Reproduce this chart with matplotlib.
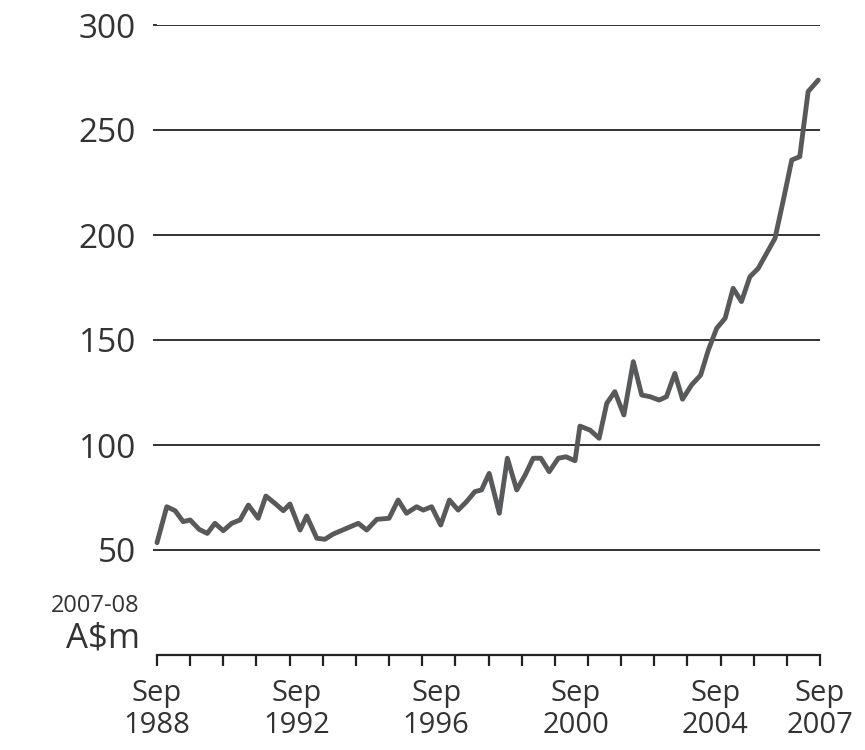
import matplotlib
matplotlib.use('Agg')
import numpy as np
from matplotlib import pyplot as plt

plt.rcParams['font.family'] = ['Open Sans', 'DejaVu Sans']

# quarterly values, x as decimal years (Sep = .75)
years = [1988.75, 1989.03, 1989.27, 1989.50, 1989.70, 1989.96, 1990.19, 1990.41,
         1990.65, 1990.89, 1991.13, 1991.37, 1991.65, 1991.87, 1992.13, 1992.37,
         1992.56, 1992.85, 1993.04, 1993.33, 1993.56, 1993.80, 1994.52, 1994.76,
         1995.05, 1995.40, 1995.66, 1995.90, 1996.19, 1996.38, 1996.62, 1996.88,
         1997.13, 1997.38, 1997.62, 1997.86, 1998.05, 1998.27, 1998.56, 1998.79,
         1999.06, 1999.30, 1999.53, 1999.75, 1999.99, 2000.25, 2000.47, 2000.73,
         2000.87, 2001.16, 2001.42, 2001.64, 2001.87, 2002.13, 2002.40, 2002.64,
         2002.88, 2003.14, 2003.35, 2003.59, 2003.81, 2004.07, 2004.33, 2004.55,
         2004.79, 2005.03, 2005.26, 2005.50, 2005.74, 2005.98, 2006.22, 2006.46,
         2006.70, 2006.94, 2007.17, 2007.41, 2007.70]
values = [53.5, 70.6, 68.7, 63.5, 64.3, 59.8, 57.9, 62.7,
          59.2, 62.7, 64.3, 71.4, 65.1, 75.7, 72.2, 68.7,
          71.9, 59.5, 66.2, 55.6, 55.1, 57.6, 62.7, 59.5,
          64.6, 65.1, 73.8, 67.5, 70.6, 69.0, 70.6, 61.9,
          73.8, 69.0, 73.0, 77.8, 78.6, 86.5, 67.5, 93.7,
          78.6, 85.7, 93.7, 93.7, 87.3, 93.7, 94.4, 92.5,
          109.0, 107.1, 103.2, 119.9, 125.4, 114.3, 139.7, 123.8,
          123.0, 121.4, 123.0, 134.1, 121.8, 128.6, 133.3, 145.2,
          155.6, 160.3, 174.6, 168.3, 180.1, 184.1, 191.3, 198.4,
          216.7, 235.7, 237.3, 268.3, 273.8]

y_ticks = [50, 100, 150, 200, 250, 300]
x_label_years = [1988.75, 1992.75, 1996.75, 2000.75, 2004.75, 2007.75]
x_labels = ['Sep\n1988', 'Sep\n1992', 'Sep\n1996', 'Sep\n2000', 'Sep\n2004', 'Sep\n2007']

text_col = '#333333'

fig = plt.figure(figsize=(8.65, 7.5), dpi=100)
ax = fig.add_axes([157 / 865, 95 / 750, 663 / 865, 630 / 750])

ax.set_xlim(1988.75, 2007.75)
ax.set_ylim(0, 300)

for v in y_ticks:
    ax.axhline(v, color='#111111', lw=1.2, zorder=1)

ax.plot(years, values, color='#58595b', lw=3.5, solid_joinstyle='round',
        solid_capstyle='round', zorder=3, clip_on=False)

for s in ['top', 'right', 'left']:
    ax.spines[s].set_visible(False)
ax.spines['bottom'].set_linewidth(1.6)
ax.spines['bottom'].set_color('#222222')

ax.set_yticks(y_ticks)
ax.set_yticklabels([str(v) for v in y_ticks])
ax.tick_params(axis='y', length=3, width=1.2, color='#111111', pad=12,
               labelsize=24, labelcolor=text_col)

ax.xaxis.remove_overlapping_locs = False
ax.set_xticks(x_label_years)
ax.set_xticklabels(x_labels, linespacing=1.15)
ax.set_xticks(np.linspace(1988.75, 2007.75, 21), minor=True)
ax.tick_params(axis='x', which='major', length=0, pad=17, labelsize=21,
               labelcolor=text_col)
ax.tick_params(axis='x', which='minor', length=8, width=1.6, color='#222222',
               direction='out')

fig.text(140 / 865, 1 - 606 / 750, '2007-08', ha='right', va='center',
         fontsize=17, color=text_col)
fig.text(140 / 865, 1 - 638 / 750, 'A$m', ha='right', va='center',
         fontsize=25, color=text_col)

fig.savefig('out.png', dpi=100)
